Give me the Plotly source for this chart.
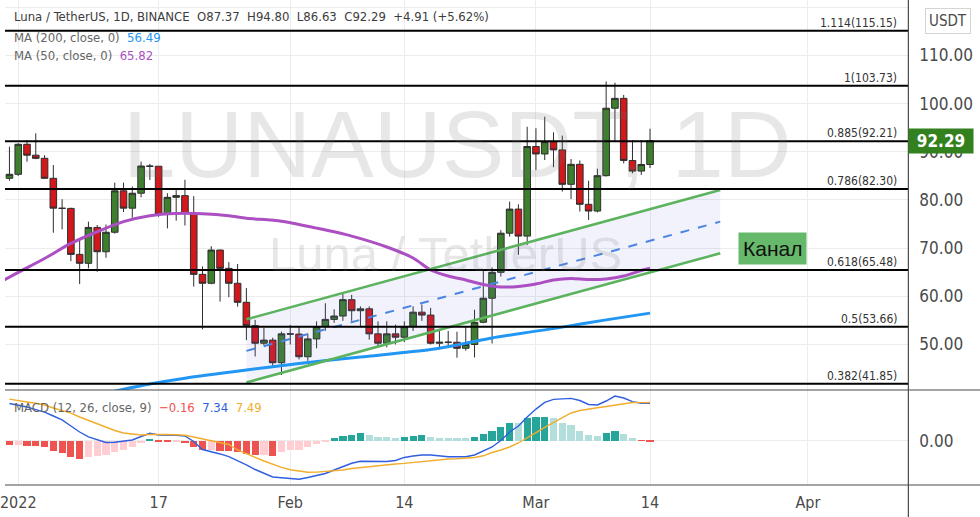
import plotly.graph_objects as go
import pandas as pd

# ---------------- data ----------------
dates = pd.date_range("2021-12-31", "2022-03-14", freq="D")
opens = [84.5, 85.33, 91.56, 89.3, 88.65, 84.5, 78.3, 78.25, 68.7, 66.85, 74.3, 69.25, 73.3, 81.9, 78.3, 81.4,
         87.05, 87.0, 77.0, 80.55, 80.9, 77.2, 64.55, 62.7, 69.6, 65.8, 62.7, 58.75, 53.9, 50.25, 50.9, 46.2,
         52.2, 52.15, 47.45, 51.15, 53.7, 55.2, 55.9, 59.3, 57.0, 57.4, 52.2, 50.25, 52.2, 51.5, 53.7, 56.7,
         56.1, 50.25, 50.45, 50.45, 49.2, 50.0, 54.6, 59.6, 64.98, 73.1, 78.1, 72.5, 91.1, 89.55, 92.1, 90.4,
         83.25, 87.4, 79.1, 77.7, 85.05, 99.05, 101.1, 88.2, 86.0, 87.37]
highs = [91.06, 91.8, 92.45, 93.85, 89.3, 87.26, 80.15, 78.4, 71.7, 75.5, 74.8, 74.9, 83.6, 83.6, 82.8, 87.95,
         87.5, 87.05, 81.4, 82.4, 84.2, 80.8, 66.2, 70.4, 69.7, 67.1, 66.7, 61.7, 55.1, 53.4, 51.4, 52.65,
         54.05, 53.8, 52.3, 54.8, 58.55, 57.3, 60.6, 60.3, 57.9, 57.9, 54.8, 54.8, 54.1, 54.8, 57.9, 58.3,
         57.6, 53.1, 52.8, 52.65, 53.6, 57.2, 65.5, 66.0, 73.75, 79.65, 79.1, 95.2, 94.9, 97.3, 94.05, 93.35,
         88.5, 88.2, 84.0, 86.5, 104.6, 104.35, 101.8, 92.45, 92.45, 94.80]
lows = [84.0, 85.0, 87.95, 88.45, 84.4, 73.2, 73.9, 67.3, 62.55, 65.8, 65.1, 68.0, 73.0, 77.5, 76.3, 80.55,
        84.15, 76.5, 74.1, 75.7, 74.7, 62.0, 53.15, 62.5, 58.9, 59.8, 57.85, 50.9, 47.5, 49.8, 45.4, 43.65,
        50.0, 46.9, 46.6, 49.2, 52.85, 54.5, 54.9, 54.9, 53.6, 51.0, 49.4, 49.4, 50.0, 50.5, 52.8, 54.9,
        50.0, 49.0, 49.6, 47.25, 48.7, 47.3, 54.4, 50.2, 64.1, 72.4, 68.6, 70.65, 86.2, 88.3, 86.8, 81.75,
        80.2, 77.6, 75.85, 77.4, 84.85, 92.1, 87.6, 85.55, 85.2, 86.63]
closes = [85.33, 91.56, 89.3, 88.65, 84.5, 78.3, 78.25, 68.7, 66.85, 74.3, 69.25, 73.3, 81.9, 78.3, 81.4, 87.05,
          87.0, 77.0, 80.55, 80.9, 77.2, 64.55, 62.7, 69.6, 65.8, 62.7, 58.75, 53.9, 50.25, 50.9, 46.2, 52.2,
          52.15, 47.45, 51.15, 53.7, 55.2, 55.9, 59.3, 57.0, 57.4, 52.2, 50.25, 52.2, 51.5, 53.7, 56.7, 56.1,
          50.25, 50.45, 50.45, 49.2, 50.0, 54.6, 59.6, 64.98, 73.1, 78.1, 72.5, 91.1, 89.55, 92.1, 90.4, 83.25,
          87.4, 79.1, 77.7, 85.05, 99.05, 101.1, 88.2, 86.0, 87.37, 92.29]

macd_hist = [-0.92, -0.78, -0.98, -1.1, -1.3, -2.1, -2.4, -3.2, -3.5, -3.25, -3.07, -2.87, -2.3, -1.76, -1.24,
             -0.4, 0.4, -0.2, -0.22, -0.1, -0.45, -1.24, -1.9, -1.76, -1.96, -2.1, -2.3, -2.55, -2.87, -2.8,
             -2.94, -2.3, -1.9, -1.76, -1.3, -0.65, -0.1, 0.45, 0.98, 1.18, 1.44, 1.05, 0.78, 0.78, 0.6, 0.78,
             0.98, 1.18, 0.78, 0.6, 0.56, 0.52, 0.5, 0.72, 1.37, 1.9, 2.68, 3.53, 3.46, 4.44, 4.62, 4.66, 4.4,
             3.53, 3.14, 1.96, 1.18, 0.98, 1.57, 1.96, 1.37, 0.52, -0.05, -0.16]
macd_line = [7.3, 7.0, 6.6, 6.1, 5.6, 4.84, 4.06, 2.88, 1.7, 0.73, 0.14, -0.35, -0.31, -0.06, 0.14, 0.82, 1.45,
             1.12, 1.12, 1.06, 0.92, -0.16, -1.73, -2.12, -2.6, -3.14, -3.88, -4.76, -5.65, -6.43, -7.12, -7.27,
             -7.37, -7.57, -7.22, -6.82, -6.43, -5.75, -5.06, -4.43, -4.04, -4.08, -4.18, -4.08, -3.88, -3.29,
             -3.0, -2.8, -2.8, -3.0, -3.14, -3.14, -3.14, -2.8, -2.02, -1.24, 0.04, 1.7, 2.88, 4.65, 6.2, 7.5,
             8.1, 8.27, 8.3, 7.88, 7.1, 7.0, 7.78, 8.76, 8.37, 7.65, 7.33, 7.34]
signal_line = [8.14, 7.82, 7.59, 7.35, 7.0, 6.41, 5.92, 5.39, 4.65, 3.96, 3.31, 2.63, 2.0, 1.51, 1.25, 1.12, 1.22,
               1.25, 1.22, 1.16, 1.06, 0.73, 0.33, -0.06, -0.35, -0.75, -1.82, -2.6, -3.29, -3.98, -4.67, -5.22,
               -5.69, -6.0, -6.2, -6.16, -6.06, -5.86, -5.75, -5.45, -5.25, -5.06, -4.92, -4.76, -4.57, -4.45,
               -4.27, -4.06, -3.88, -3.69, -3.59, -3.53, -3.47, -3.29, -2.96, -2.31, -1.82, -1.24, -0.45, 0.63,
               1.59, 2.59, 3.53, 4.45, 5.43, 5.92, 6.25, 6.45, 6.7, 7.0, 7.29, 7.49, 7.47, 7.49]

ma50_dates = ["2021-12-30", "2022-01-01", "2022-01-04", "2022-01-07", "2022-01-10", "2022-01-13", "2022-01-16",
              "2022-01-19", "2022-01-22", "2022-01-25", "2022-01-27", "2022-01-31", "2022-02-04", "2022-02-08",
              "2022-02-12", "2022-02-15", "2022-02-17", "2022-02-19", "2022-02-21", "2022-02-23", "2022-02-25",
              "2022-02-27", "2022-03-01", "2022-03-03", "2022-03-05", "2022-03-07", "2022-03-09", "2022-03-11",
              "2022-03-13", "2022-03-14"]
ma50_vals = [63.0, 64.96, 67.85, 70.97, 73.4, 75.5, 76.74, 77.2, 77.15, 76.74, 76.2, 75.6, 74.15, 72.5, 70.24,
             67.95, 65.46, 64.2, 63.38, 62.45, 61.93, 62.04, 62.55, 63.38, 63.7, 63.49, 63.6, 64.2, 65.36, 65.82]

ma200_dates = ["2022-01-11", "2022-01-13", "2022-01-16", "2022-01-20", "2022-01-27", "2022-02-02", "2022-02-09",
               "2022-02-17", "2022-02-21", "2022-02-24", "2022-03-04", "2022-03-09", "2022-03-14"]
ma200_vals = [39.9, 40.7, 41.8, 43.0, 44.7, 46.05, 47.4, 48.95, 50.24, 51.34, 53.6, 55.1, 56.5]

fib_levels = [115.15, 103.73, 92.21, 82.30, 65.48, 53.66, 41.85]
fib_ratios = ["1.114", "1", "0.885", "0.786", "0.618", "0.5", "0.382"]

channel_dates = ["2022-01-27", "2022-03-22"]
channel_upper = [55.22, 82.07]
channel_mid = [48.66, 75.5]
channel_lower = [42.1, 68.93]

x_tick_dates = ["2022-01-01", "2022-01-17", "2022-02-01", "2022-02-14", "2022-03-01", "2022-03-14", "2022-04-01"]
x_tick_text = ["2022", "17", "Feb", "14", "Mar", "14", "Apr"]
price_ticks = [50, 60, 70, 80, 90, 100, 110, 120]
macd_ticks = [0]

header_text = "Luna / TetherUS, 1D, BINANCE&nbsp;&nbsp;O87.37&nbsp;&nbsp;H94.80&nbsp;&nbsp;L86.63&nbsp;&nbsp;C92.29&nbsp;&nbsp;+4.91 (+5.62%)"
ma200_label, ma200_last = "MA (200, close, 0)", "56.49"
ma50_label, ma50_last = "MA (50, close, 0)", "65.82"
macd_label = "MACD (12, 26, close, 9)"
macd_last = ["\u22120.16", "7.34", "7.49"]
last_price = "92.29"
channel_label = "Канал"

# ---------------- geometry helpers ----------------
W, H = 980, 517
PLOT_R = 908
def px(x):
    return x / W
def py(y):
    return 1 - y / H

X_RANGE = ["2021-12-30 11:49", "2022-04-12 10:34"]
Y_RANGE = [40.54, 121.525]
M_RANGE = [-8.69, 9.94]

NARROW = "Liberation Sans Narrow, DejaVu Sans Condensed, Liberation Sans, Arial, sans-serif"
GRID = "#ececec"
TXT = "#3c3c3c"

fig = go.Figure()

# channel fill
fig.add_trace(go.Scatter(
    x=channel_dates + channel_dates[::-1], y=channel_upper + channel_lower[::-1],
    fill="toself", fillcolor="rgba(110,110,220,0.09)", line=dict(width=0), mode="lines",
    hoverinfo="skip", xaxis="x", yaxis="y", showlegend=False))

# candles
fig.add_trace(go.Candlestick(
    x=dates, open=opens, high=highs, low=lows, close=closes,
    increasing=dict(fillcolor="#3d7f2c", line=dict(color="#2e2e2e", width=1)),
    decreasing=dict(fillcolor="#d3181c", line=dict(color="#2e2e2e", width=1)),
    whiskerwidth=0, xaxis="x", yaxis="y", showlegend=False))

# moving averages
fig.add_trace(go.Scatter(x=ma50_dates, y=ma50_vals, mode="lines",
                         line=dict(color="#ab4fc2", width=3, shape="spline", smoothing=0.8),
                         xaxis="x", yaxis="y", showlegend=False))
fig.add_trace(go.Scatter(x=ma200_dates, y=ma200_vals, mode="lines",
                         line=dict(color="#2196f3", width=3, shape="spline", smoothing=0.8),
                         xaxis="x", yaxis="y", showlegend=False))

# channel lines
fig.add_trace(go.Scatter(x=channel_dates, y=channel_upper, mode="lines",
                         line=dict(color="#5cb35e", width=2.5), xaxis="x", yaxis="y", showlegend=False))
fig.add_trace(go.Scatter(x=channel_dates, y=channel_lower, mode="lines",
                         line=dict(color="#5cb35e", width=2.5), xaxis="x", yaxis="y", showlegend=False))
fig.add_trace(go.Scatter(x=channel_dates, y=channel_mid, mode="lines",
                         line=dict(color="#4a85e0", width=2, dash="9px,9px"), xaxis="x", yaxis="y",
                         showlegend=False))

# MACD histogram colours (TradingView rule)
hist_colors = []
prev = 0.0
for v in macd_hist:
    if v >= 0:
        hist_colors.append("#26a69a" if v > prev else "#b2dfdb")
    else:
        hist_colors.append("#ef5350" if v < prev else "#ffcdd2")
    prev = v

fig.add_trace(go.Bar(x=dates, y=macd_hist, marker=dict(color=hist_colors, line=dict(width=0)),
                     width=0.82 * 86400000, xaxis="x2", yaxis="y2", showlegend=False))
fig.add_trace(go.Scatter(x=dates, y=macd_line, mode="lines", line=dict(color="#2f5fe0", width=1.4),
                         xaxis="x2", yaxis="y2", showlegend=False))
fig.add_trace(go.Scatter(x=dates, y=signal_line, mode="lines", line=dict(color="#f2ad2c", width=1.4),
                         xaxis="x2", yaxis="y2", showlegend=False))

shapes = []
# fib lines
for lv in fib_levels:
    shapes.append(dict(type="line", xref="paper", x0=0, x1=px(PLOT_R), yref="y", y0=lv, y1=lv,
                       line=dict(color="#000000", width=2), layer="above"))
# pane borders
shapes.append(dict(type="line", xref="paper", yref="paper", x0=0, x1=1, y0=py(390), y1=py(390),
                   line=dict(color="#4a4a4a", width=1.2)))
shapes.append(dict(type="line", xref="paper", yref="paper", x0=0, x1=1, y0=py(485), y1=py(485),
                   line=dict(color="#4a4a4a", width=1.2)))
shapes.append(dict(type="line", xref="paper", yref="paper", x0=px(PLOT_R), x1=px(PLOT_R), y0=0, y1=1,
                   line=dict(color="#4a4a4a", width=1.2)))

annotations = []
for lv, r in zip(fib_levels, fib_ratios):
    annotations.append(dict(xref="paper", x=px(899), xanchor="right", yref="y", y=lv, yanchor="bottom",
                            yshift=-1, text=f"{r}({lv:.2f})", showarrow=False,
                            font=dict(family="DejaVu Sans Condensed, DejaVu Sans", size=12, color="#333333")))

# watermarks
annotations.append(dict(xref="paper", x=px(455), yref="paper", y=py(145), xanchor="center", yanchor="middle",
                        text="LUNAUSDT, 1D", showarrow=False,
                        font=dict(family="Liberation Sans, Arial", size=94, color="rgba(110,110,110,0.17)")))
annotations.append(dict(xref="paper", x=px(443), yref="paper", y=py(254), xanchor="center", yanchor="middle",
                        text="Luna / TetherUS", showarrow=False,
                        font=dict(family="Liberation Sans, Arial", size=49, color="rgba(110,110,110,0.17)")))

# headers
annotations.append(dict(xref="paper", x=px(7), yref="paper", y=py(17), xanchor="left", yanchor="middle",
                        text=header_text, showarrow=False, font=dict(family=NARROW, size=13, color=TXT)))
annotations.append(dict(xref="paper", x=px(7), yref="paper", y=py(37), xanchor="left", yanchor="middle",
                        text=f"{ma200_label}&nbsp;&nbsp;<span style='color:#2196f3'>{ma200_last}</span>",
                        showarrow=False, font=dict(family=NARROW, size=13, color="#666666")))
annotations.append(dict(xref="paper", x=px(7), yref="paper", y=py(56), xanchor="left", yanchor="middle",
                        text=f"{ma50_label}&nbsp;&nbsp;<span style='color:#ab4fc2'>{ma50_last}</span>",
                        showarrow=False, font=dict(family=NARROW, size=13, color="#666666")))
annotations.append(dict(xref="paper", x=px(7), yref="paper", y=py(407), xanchor="left", yanchor="middle",
                        text=(f"{macd_label}&nbsp;&nbsp;<span style='color:#ef5350'>{macd_last[0]}</span>"
                              f"&nbsp;&nbsp;<span style='color:#2f5fe0'>{macd_last[1]}</span>"
                              f"&nbsp;&nbsp;<span style='color:#f2ad2c'>{macd_last[2]}</span>"),
                        showarrow=False, font=dict(family=NARROW, size=13, color="#666666")))

# right-axis boxes
annotations.append(dict(xref="paper", x=px(948), yref="paper", y=py(21), xanchor="center", yanchor="middle",
                        text="USDT", showarrow=False, bgcolor="#ffffff", bordercolor="#d4d4d4", borderwidth=1,
                        borderpad=3, font=dict(family=NARROW, size=15, color="#4a4a4a")))
annotations.append(dict(xref="paper", x=px(941), yref="y", y=float(last_price), xanchor="center",
                        yanchor="middle", text=f"<b>{last_price}</b>", showarrow=False, bgcolor="#33801f",
                        width=60, height=20, borderpad=2,
                        font=dict(family=NARROW, size=17, color="#ffffff")))

# channel label
annotations.append(dict(xref="paper", x=px(771), yref="paper", y=py(248), xanchor="center", yanchor="middle",
                        text=channel_label, showarrow=False, bgcolor="#66b96a", borderpad=4,
                        font=dict(family="Liberation Sans, Arial", size=21, color="#111111")))

fig.update_layout(
    width=W, height=H, margin=dict(l=0, r=0, t=0, b=0),
    paper_bgcolor="#ffffff", plot_bgcolor="#ffffff", showlegend=False,
    bargap=0, boxgap=0.25, boxgroupgap=0,
    xaxis=dict(domain=[0, px(PLOT_R)], anchor="y", type="date", range=X_RANGE, rangeslider=dict(visible=False),
               tickvals=x_tick_dates, showticklabels=False, showgrid=True, gridcolor=GRID, zeroline=False,
               showline=False, ticks=""),
    yaxis=dict(domain=[py(390), 1], anchor="x", side="right", range=Y_RANGE, tickvals=price_ticks,
               ticktext=[f"{t:.2f}" for t in price_ticks], showgrid=True, gridcolor=GRID, zeroline=False,
               ticks="", ticklabelstandoff=10, tickfont=dict(family=NARROW, size=17, color="#4a4a4a")),
    xaxis2=dict(domain=[0, px(PLOT_R)], anchor="y2", type="date", range=X_RANGE, matches="x",
                tickvals=x_tick_dates, ticktext=x_tick_text, showgrid=True, gridcolor=GRID, zeroline=False,
                ticks="", ticklabelstandoff=6, ticklabeloverflow="allow",
                tickfont=dict(family=NARROW, size=16, color="#4a4a4a")),
    yaxis2=dict(domain=[py(485), py(390)], anchor="x2", side="right", range=M_RANGE, tickvals=macd_ticks,
                ticktext=["0.00"], showgrid=True, gridcolor=GRID, zeroline=False, ticks="",
                ticklabelstandoff=10, tickfont=dict(family=NARROW, size=17, color="#4a4a4a")),
    shapes=shapes, annotations=annotations,
)

fig.write_html("out.html", config={"displayModeBar": False},
               post_script="document.body.style.margin='0';document.body.style.overflow='hidden';")
